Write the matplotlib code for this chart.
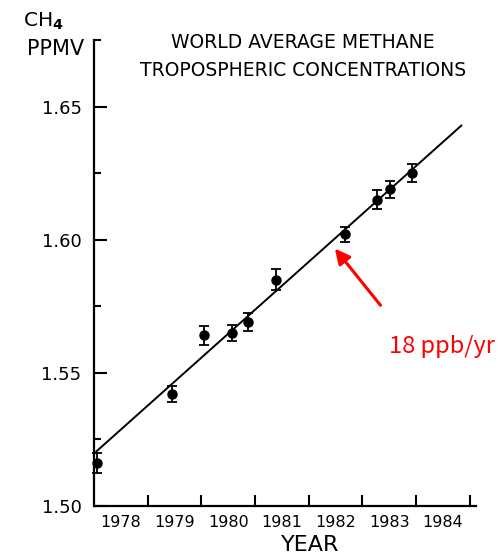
import matplotlib
matplotlib.use("Agg")
import matplotlib.pyplot as plt
import numpy as np

# Measured world-average tropospheric methane (ppmv) with 1-sigma errors
years = [1978.05, 1979.45, 1980.05, 1980.58, 1980.87, 1981.40, 1982.67, 1983.28, 1983.51, 1983.92]
ch4 = [1.516, 1.542, 1.564, 1.565, 1.569, 1.585, 1.602, 1.615, 1.619, 1.625]
ch4_err = [0.0038, 0.0030, 0.0036, 0.0030, 0.0033, 0.0039, 0.0029, 0.0036, 0.0032, 0.0034]

# Linear trend
trend_years = [1978.0, 1984.86]
trend_intercept = 1.5196   # ppmv at 1978.0
trend_slope_ppb = 18       # ppb per year

year_labels = ["1978", "1979", "1980", "1981", "1982", "1983", "1984"]
y_major = [1.50, 1.55, 1.60, 1.65]
y_minor = [1.525, 1.575, 1.625, 1.675]

fig = plt.figure(figsize=(5.04, 5.56), dpi=100)
ax = fig.add_axes([94 / 504, 1 - 505.7 / 556, (476 - 94) / 504, (505.7 - 40) / 556])

ax.set_xlim(1978.0, 1985.12)
ax.set_ylim(1.50, 1.675)

# trend line
tx = np.array(trend_years)
ty = trend_intercept + trend_slope_ppb / 1000.0 * (tx - trend_years[0])
ax.plot(tx, ty, color="black", lw=1.4, solid_capstyle="butt")

# observations
ax.errorbar(years, ch4, yerr=ch4_err, fmt="o", color="black", ms=6.5,
            elinewidth=1.3, capsize=3.5, capthick=1.3, clip_on=False, zorder=3)

# axes styling
for s in ("top", "right"):
    ax.spines[s].set_visible(False)
for s in ("left", "bottom"):
    ax.spines[s].set_linewidth(1.6)

# x: boundary ticks between years, labels centred on each year
ax.set_xticks([y + 1 for y in range(1978, 1985)])
ax.set_xticklabels([])
ax.set_xticks([int(l) + 0.5 for l in year_labels], minor=True)
ax.set_xticklabels(year_labels, minor=True)
ax.tick_params(axis="x", which="major", direction="in", length=8, width=1.5)
ax.tick_params(axis="x", which="minor", length=0, pad=7, labelsize=11.5)

ax.set_yticks(y_major)
ax.set_yticklabels([f"{v:.2f}" for v in y_major])
ax.set_yticks(y_minor, minor=True)
ax.tick_params(axis="y", which="major", direction="in", length=9, width=1.5,
               pad=9, labelsize=13)
ax.tick_params(axis="y", which="minor", direction="in", length=5, width=1.5)

fig.text(310 / 504, 1 - 545 / 556, "YEAR", fontsize=16, ha="center", va="center")

# y-axis unit label
fig.text(23 / 504, 1 - 21 / 556, r"CH$_\mathbf{4}$", fontsize=14.5, ha="left", va="center")
fig.text(84 / 504, 1 - 49 / 556, "PPMV", fontsize=15, ha="right", va="center")

# title
fig.text(303 / 504, 1 - 42 / 556, "WORLD AVERAGE METHANE", fontsize=13.5,
         ha="center", va="center")
fig.text(303 / 504, 1 - 70 / 556, "TROPOSPHERIC CONCENTRATIONS", fontsize=13.5,
         ha="center", va="center")

# annotation of the trend slope
tip_x = 1982.49
tip_y = trend_intercept + trend_slope_ppb / 1000.0 * (tip_x - trend_years[0]) - 0.0038
ax.annotate("", xy=(tip_x, tip_y), xytext=(1983.34, 1.5753),
            arrowprops=dict(arrowstyle="-|>,head_length=0.9,head_width=0.45",
                            color="red", lw=2.2, shrinkA=0, shrinkB=0))
fig.text(442 / 504, 1 - 347 / 556, f"{trend_slope_ppb} ppb/yr", color="red",
         fontsize=17, ha="center", va="center",
         family=["Noto Sans CJK JP", "DejaVu Sans"])

fig.savefig("out.png", dpi=100)
